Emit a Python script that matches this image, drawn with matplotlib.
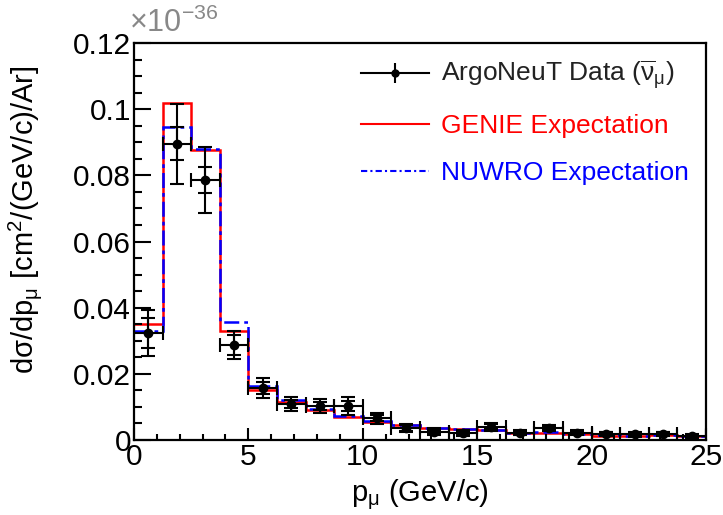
import numpy as np
import matplotlib.pyplot as plt
from matplotlib.lines import Line2D
from matplotlib.ticker import MultipleLocator, FuncFormatter

plt.rcParams['font.family'] = ['Liberation Sans', 'DejaVu Sans']
plt.rcParams['mathtext.fontset'] = 'custom'
plt.rcParams['mathtext.rm'] = 'Liberation Sans'
plt.rcParams['mathtext.it'] = 'Liberation Sans:italic'
plt.rcParams['mathtext.bf'] = 'Liberation Sans:bold'

# bin edges in GeV/c (20 bins of 1.25)
edges = np.linspace(0, 25, 21)
centers = 0.5 * (edges[:-1] + edges[1:])

# cross section in units of 1e-36 cm^2/(GeV/c)/Ar
genie = [0.0351, 0.1019, 0.0877, 0.0330, 0.0151, 0.0115, 0.0090, 0.0070, 0.0054, 0.0045,
         0.0035, 0.0032, 0.0030, 0.0022, 0.0022, 0.0017, 0.0013, 0.0013, 0.0015, 0.0012]
nuwro = [0.0330, 0.0945, 0.0880, 0.0357, 0.0163, 0.0121, 0.0094, 0.0073, 0.0057, 0.0046,
         0.0036, 0.0033, 0.0030, 0.0022, 0.0023, 0.0017, 0.0014, 0.0013, 0.0015, 0.0012]
data = [0.0323, 0.0895, 0.0786, 0.0287, 0.0157, 0.0109, 0.0103, 0.0103, 0.0066, 0.0036,
        0.0025, 0.0020, 0.0040, 0.0022, 0.0036, 0.0022, 0.0018, 0.0017, 0.0018, 0.0012]
err_tot = [0.0070, 0.0120, 0.0100, 0.0043, 0.0029, 0.0022, 0.0022, 0.0027, 0.0017, 0.0012,
           0.0010, 0.0009, 0.0012, 0.0008, 0.0009, 0.0008, 0.0007, 0.0007, 0.0007, 0.0006]
err_stat = [0.0045, 0.0050, 0.0040, 0.0030, 0.0018, 0.0013, 0.0013, 0.0015, 0.0010, 0.0008,
            0.0006, 0.0006, 0.0008, 0.0006, 0.0006, 0.0005, 0.0005, 0.0005, 0.0005, 0.0004]

fig = plt.figure(figsize=(7.23, 5.15), dpi=100)
ax = fig.add_axes([0.1853, 0.1456, 0.7912, 0.7709])

ax.stairs(genie, edges, color='#ff0000', linewidth=1.8, baseline=None)
ax.stairs(nuwro, edges, color='#0000ff', linewidth=1.8, linestyle=(0, (6, 2, 1.5, 2)),
          baseline=None)
ax.errorbar(centers, data, xerr=0.625, yerr=err_tot, fmt='o', color='black',
            markersize=6, elinewidth=1.5, capsize=5, capthick=1.5, zorder=5)
ax.errorbar(centers, data, yerr=err_stat, fmt='none', ecolor='black',
            elinewidth=1.5, capsize=5, capthick=1.5, zorder=5)

ax.set_xlim(0, 25)
ax.set_ylim(0, 0.12)
ax.xaxis.set_major_locator(MultipleLocator(5))
ax.xaxis.set_minor_locator(MultipleLocator(1))
ax.yaxis.set_major_locator(MultipleLocator(0.02))
ax.yaxis.set_minor_locator(MultipleLocator(0.005))
ax.yaxis.set_major_formatter(FuncFormatter(lambda v, p: '%g' % round(v, 3)))
ax.tick_params(which='both', direction='in', top=False, right=False,
               labelsize=21.5, width=1.5)
ax.tick_params(axis='x', which='major', length=9, pad=2)
ax.tick_params(axis='x', which='minor', length=4.5)
ax.tick_params(axis='y', which='major', length=12, pad=2)
ax.tick_params(axis='y', which='minor', length=6)
for s in ax.spines.values():
    s.set_linewidth(1.6)

ax.set_xlabel(r'p$_{\mathrm{\mu}}$ (GeV/c)', fontsize=21)
ax.xaxis.set_label_coords(0.5, -0.095)
ax.set_ylabel(r'd$\mathrm{\sigma}$/dp$_{\mathrm{\mu}}$ [cm$^{2}$/(GeV/c)/Ar]', fontsize=21)
ax.yaxis.set_label_coords(-0.158, 0.555)

fig.text(0.178, 0.925, r'$\times$10$^{-36}$', fontsize=22, color='#888888',
         ha='left', va='bottom')

data_handle = (
    Line2D([], [], color='black', marker='|', markersize=14, markeredgewidth=1.5,
           linewidth=1.5),
    Line2D([], [], color='black', marker='o', markersize=5, linestyle='none'),
)
handles = [
    data_handle,
    Line2D([], [], color='#ff0000', linewidth=1.5),
    Line2D([], [], color='#0000ff', linewidth=1.5, linestyle=(0, (3, 1.5, 1, 1.5))),
]
labels = [r'ArgoNeuT Data ($\overline{\mathrm{\nu}}_{\mathrm{\mu}}$)',
          'GENIE Expectation', 'NUWRO Expectation']
leg = ax.legend(handles, labels, loc='upper left', bbox_to_anchor=(0.355, 1.02),
                frameon=False, fontsize=19, handlelength=2.6, labelspacing=0.85,
                handletextpad=0.45, labelcolor=['#222222', '#ff0000', '#0000ff'])

fig.savefig('out.png', dpi=100)
